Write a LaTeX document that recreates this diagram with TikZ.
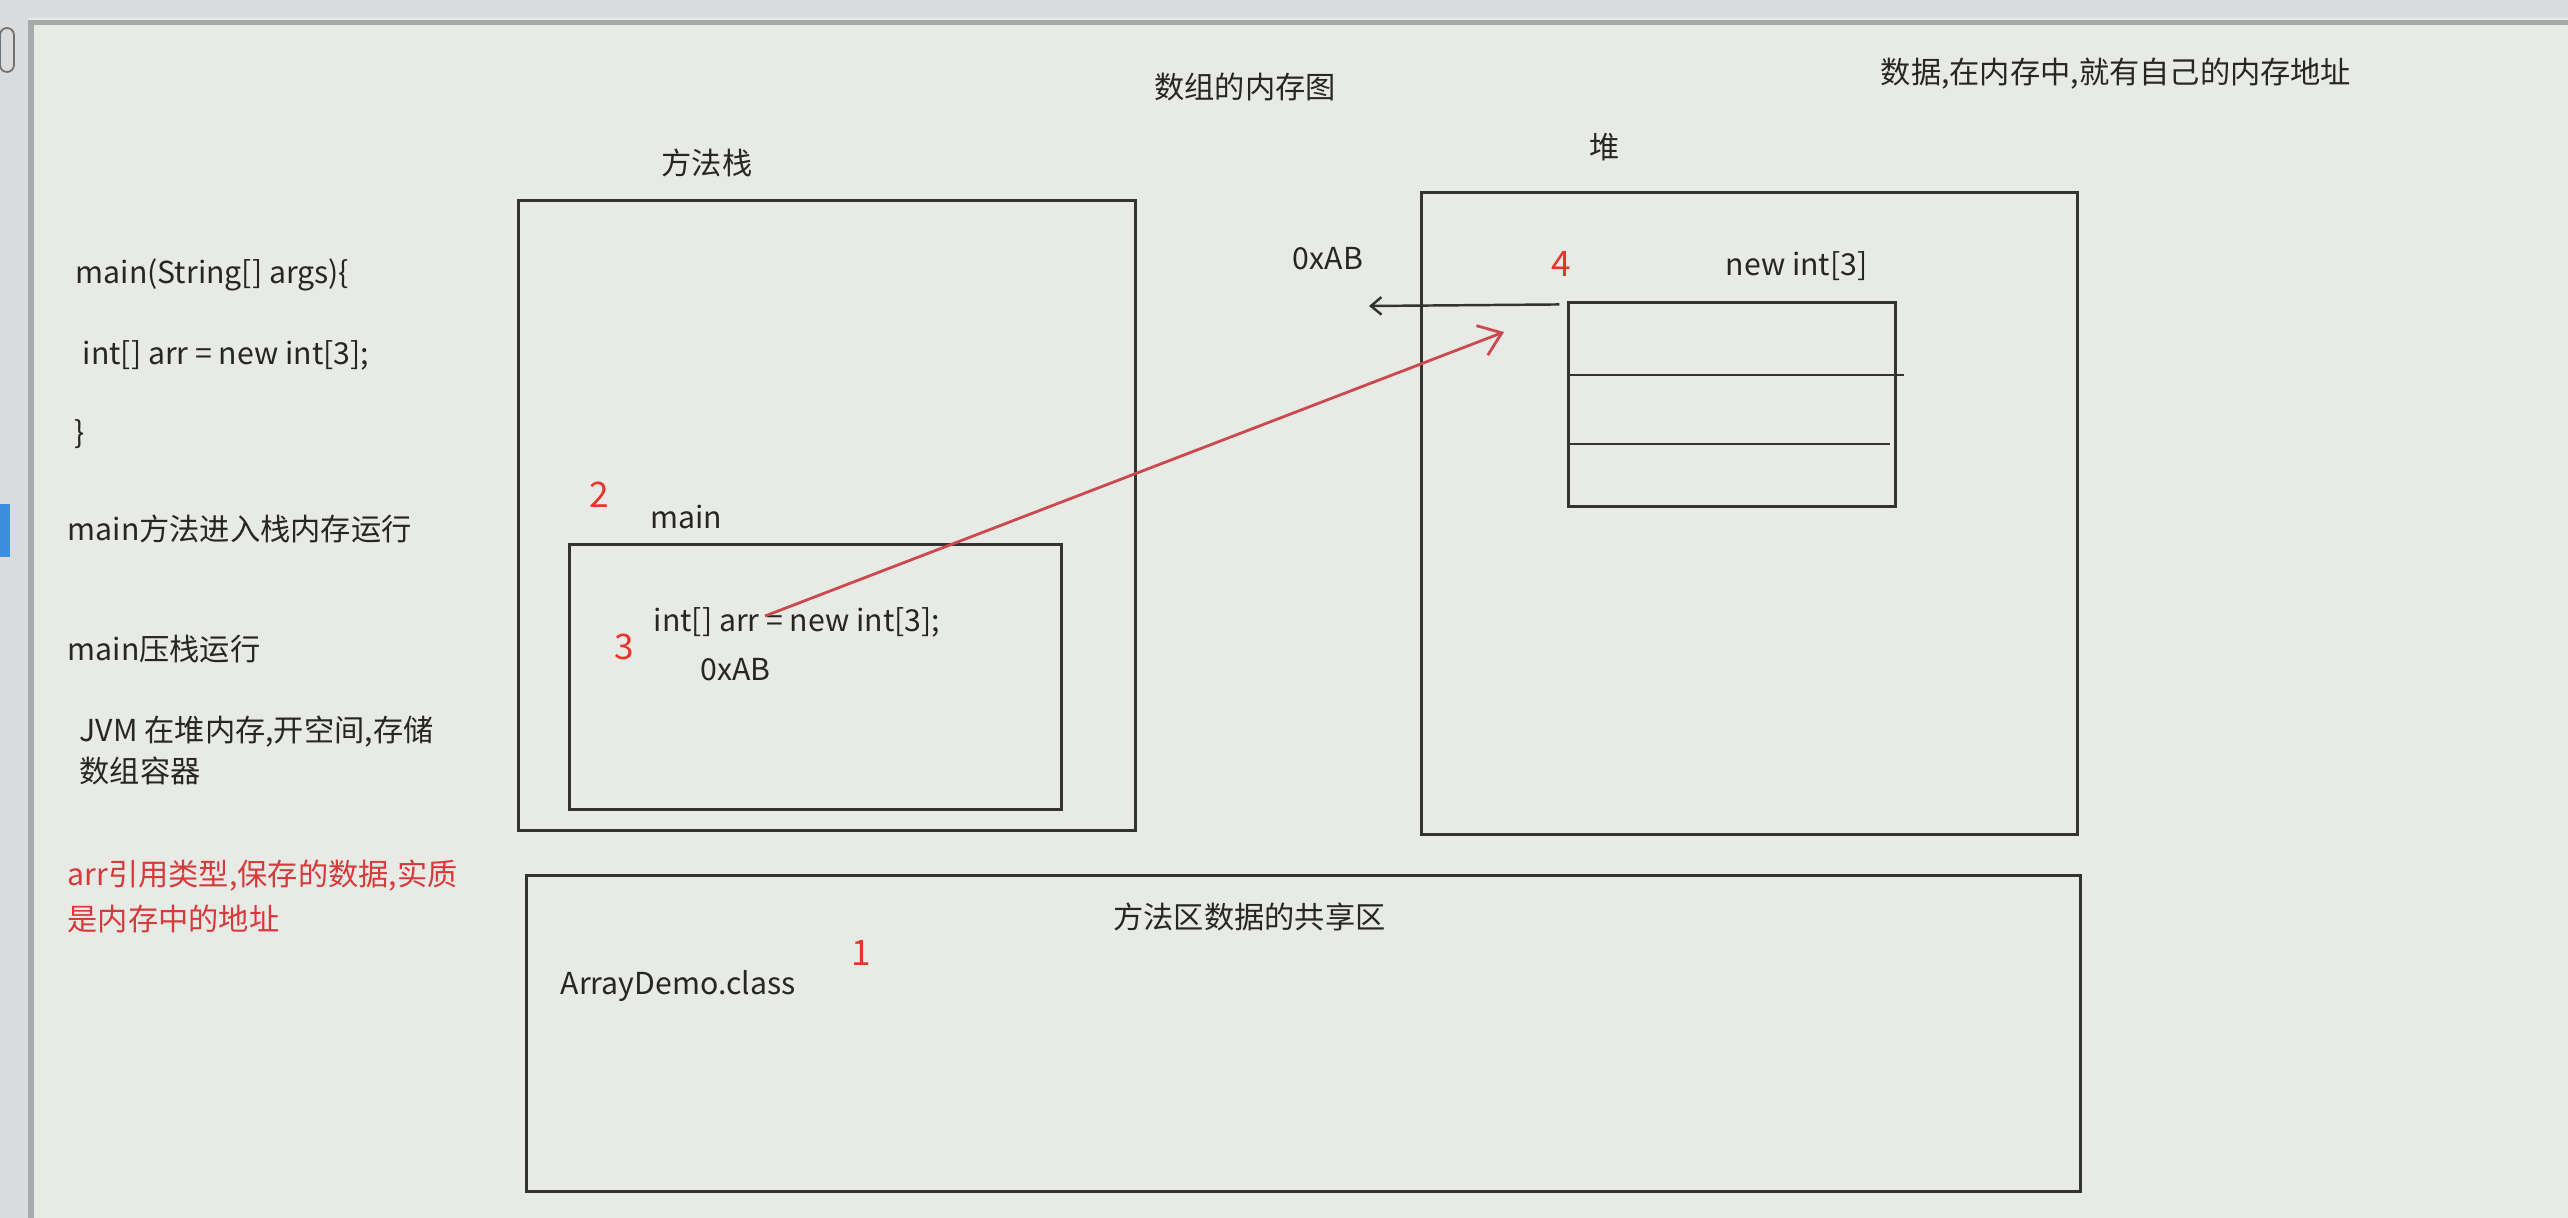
\documentclass[tikz,border=0pt]{standalone}
\usepackage{fontspec}
\setmainfont{Noto Sans CJK SC}
\usetikzlibrary{positioning, arrows.meta}
\definecolor{lienzo}{HTML}{E8EAE6}
\definecolor{marco}{HTML}{D9DBDD}
\definecolor{borde}{HTML}{A7A9AA}
\definecolor{trazo}{HTML}{333333}
\definecolor{rojo}{HTML}{E8352B}
\definecolor{flecha}{HTML}{CC4A4F}
\definecolor{nota}{HTML}{D63A3A}
\definecolor{activo}{HTML}{3D8EE0}
\tikzstyle{caja} = [draw=trazo, line width=0.85pt, rectangle, inner sep=0pt]
\tikzstyle{texto} = [inner sep=0pt, text=black!85, font=\fontsize{8.6}{10}\selectfont]
\tikzstyle{codigo} = [texto, anchor=west]
\tikzstyle{aviso} = [codigo, text=nota]
\tikzstyle{numero} = [inner sep=0pt, text=rojo, font=\fontsize{10}{12}\selectfont]

\begin{document}
\begin{tikzpicture}[x=0.01cm, y=-0.01cm]
	\useasboundingbox (0,0) rectangle (2568,1218);
	% ventana del programa
	\fill[lienzo] (0,0) rectangle (2568,1218);
	\fill[marco] (0,0) rectangle (2568,18);
	\fill[marco] (0,0) rectangle (28,1218);
	\fill[borde] (28,20) rectangle (34,1218);
	\fill[borde] (28,20) rectangle (2568,25);
	\draw[trazo!70, rounded corners=2pt, line width=0.5pt] (0,28) rectangle (14,72);
	\fill[activo] (0,504) rectangle (10,557);

	% titulos
	\node[texto] (titulo) at (1245,87) {数组的内存图};
	\node[texto] (idea) at (2116,74) {数据,在内存中,就有自己的内存地址};

	% codigo de la izquierda
	\node[codigo] (firma) at (75,275) {main(String[] args)\{};
	\node[codigo] (linea) at (82,355) {int[] arr = new int[3];};
	\node[codigo] (cierre) at (74,434) {\}};
	\node[codigo] (paso1) at (67,529) {main方法进入栈内存运行};
	\node[codigo] (paso2) at (67,649) {main压栈运行};
	\node[codigo] (paso3) at (79,732) {JVM 在堆内存,开空间,存储};
	\node[codigo] (paso3b) at (79,771) {数组容器};
	\node[aviso] (ref1) at (67,876) {arr引用类型,保存的数据,实质};
	\node[aviso] (ref2) at (67,919) {是内存中的地址};

	% pila de metodos
	\node[caja, minimum width=6.16cm, minimum height=6.29cm] (pila) at (827,515.5) {};
	\node[texto, above=0.22cm of pila.north, xshift=-1.2cm] (pilatit) {方法栈};
	\node[caja, minimum width=4.91cm, minimum height=2.64cm] (frame) at (815.5,677) {};
	\node[texto, above=0.14cm of frame.north west, xshift=1.18cm] (frametit) {main};
	\node[numero] (n2) at (599,495) {2};
	\node[codigo] (decl) at (653,622) {int[] arr = new int[3];};
	\node[numero] (n3) at (624,647) {3};
	\node[codigo] (dir) at (700,670) {0xAB};

	% monton
	\node[caja, minimum width=6.55cm, minimum height=6.41cm] (monton) at (1749.5,513.5) {};
	\node[texto, above=0.3cm of monton.north, xshift=-1.45cm] (montontit) {堆};
	\node[caja, minimum width=3.26cm, minimum height=2.03cm] (arreglo) at (1732,404.5) {};
	\draw[trazo, line width=0.85pt] (arreglo.west |- 0,375) -- ([xshift=2pt]arreglo.east |- 0,375);
	\draw[trazo, line width=0.85pt] (arreglo.west |- 0,444) -- ([xshift=-2pt]arreglo.east |- 0,444);
	\node[texto, above=0.2cm of arreglo.north east, xshift=-1.0cm] (arreglotit) {new int[3]};
	\node[numero] (n4) at (1561,264) {4};
	\node[texto] (dirheap) at (1328,259) {0xAB};

	% area de metodos
	\node[caja, minimum width=15.53cm, minimum height=3.15cm] (area) at (1303.5,1033.5) {};
	\node[texto, below=0.28cm of area.north, xshift=-0.54cm] (areatit) {方法区数据的共享区};
	\node[codigo] (clase) at (560,986) {ArrayDemo.class};
	\node[numero] (n1) at (861,953) {1};

	% flechas
	\coordinate (origen) at (765,616);
	\coordinate (destino) at (1504,332);
	\draw[flecha, line width=0.8pt, -{Straight Barb[length=6pt, width=9pt]}] (origen) -- (destino);
	\coordinate (salida) at ([xshift=-0.08cm, yshift=-0.03cm]arreglo.north west);
	\coordinate (llegada) at (1369,306);
	\draw[trazo, line width=0.7pt, -{Straight Barb[length=3pt, width=5pt]}] (salida) -- (llegada);
\end{tikzpicture}
\end{document}
